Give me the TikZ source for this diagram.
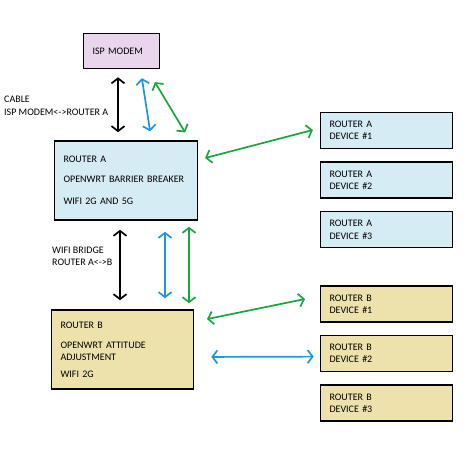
\documentclass[tikz,border=0pt]{standalone}
\usepackage{fontspec}
\setmainfont{Carlito}
\usepackage{xcolor}
\usetikzlibrary{arrows.meta,positioning}

\definecolor{ispfill}{RGB}{234,214,236}
\definecolor{afill}{RGB}{214,236,245}
\definecolor{bfill}{RGB}{238,226,172}
\definecolor{lanblue}{RGB}{28,150,222}
\definecolor{wifigreen}{RGB}{28,164,64}

\begin{document}
\begin{tikzpicture}[x=1pt, y=1pt,
    box/.style={rectangle, draw, line width=1.6pt, inner xsep=9pt, align=left, font=\fontsize{10}{12.3}\selectfont},
    modem/.style={box, fill=ispfill, text width=58pt, minimum height=35pt},
    routerA/.style={box, fill=afill, text width=125pt, minimum height=79pt},
    routerB/.style={box, fill=bfill, text width=124pt, minimum height=79pt},
    devA/.style={box, fill=afill, text width=114pt, minimum height=36pt},
    devB/.style={box, fill=bfill, text width=114pt, minimum height=36pt},
    note/.style={align=left, font=\fontsize{10}{12.5}\selectfont, inner sep=0pt},
    link/.style={{Straight Barb[length=5pt,width=13pt]}-{Straight Barb[length=5pt,width=13pt]}, line width=1.7pt},
    wire/.style={link, black},
    lan/.style={link, lanblue},
    wifi/.style={link, wifigreen}
]
\useasboundingbox (0,0) rectangle (474,454);

% Main boxes
\node[modem] (isp) at (121.5,403) {ISP MODEM};
\node[routerA] (routerA) at (126,273.5) {ROUTER A\\[7.5pt]OPENWRT BARRIER BREAKER\\[9.5pt]WIFI 2G AND 5G};
\node[routerB] (routerB) at (122.5,104.5) {ROUTER B\\[7.5pt]OPENWRT ATTITUDE\\ADJUSTMENT\\[4.5pt]WIFI 2G};

% Devices
\node[devA] (devA1) at (386.5,323.5) {ROUTER A\\DEVICE \#1};
\node[devA, below=12pt of devA1] (devA2) {ROUTER A\\DEVICE \#2};
\node[devA, below=12pt of devA2] (devA3) {ROUTER A\\DEVICE \#3};
\node[devB] (devB1) at (386.5,150) {ROUTER B\\DEVICE \#1};
\node[devB, below=12pt of devB1] (devB2) {ROUTER B\\DEVICE \#2};
\node[devB, below=12pt of devB2] (devB3) {ROUTER B\\DEVICE \#3};

% Notes
\node[note, anchor=west] (cablenote) at (4,348) {CABLE\\ISP MODEM<->ROUTER A};
\node[note, anchor=west] (bridgenote) at (52,197.5) {WIFI BRIDGE\\ROUTER A<->B};

% Modem to router A
\draw[wire, shorten <=8pt, shorten >=8pt] ([xshift=-3.5pt]isp.south) -- ([xshift=-8pt]routerA.north);
\draw[lan, shorten <=9pt, shorten >=9pt] ([xshift=19pt]isp.south) -- ([xshift=25.5pt]routerA.north);
\draw[wifi, shorten <=15pt, shorten >=9pt] ([xshift=25.7pt]isp.south) -- ([xshift=63.8pt]routerA.north);

% Router A to router B
\draw[wire, shorten <=9pt, shorten >=9pt] ([xshift=-6pt]routerA.south) -- ([xshift=-2.5pt]routerB.north);
\draw[lan, shorten <=11pt, shorten >=11pt] ([xshift=39pt]routerA.south) -- ([xshift=42.5pt]routerB.north);
\draw[wifi, shorten <=6pt, shorten >=6pt] ([xshift=63pt]routerA.south) -- ([xshift=66.5pt]routerB.north);

% Routers to devices
\draw[wifi, shorten <=7pt, shorten >=7pt] ([yshift=20.7pt]routerA.east) -- ([yshift=2.3pt]devA1.west);
\draw[wifi, shorten <=13pt, shorten >=15pt] ([yshift=27.8pt]routerB.east) -- ([yshift=8pt]devB1.west);
\draw[lan, shorten <=17pt, shorten >=6pt] ([yshift=-7.5pt]routerB.east) -- ([yshift=-3pt]devB2.west);

\end{tikzpicture}
\end{document}
